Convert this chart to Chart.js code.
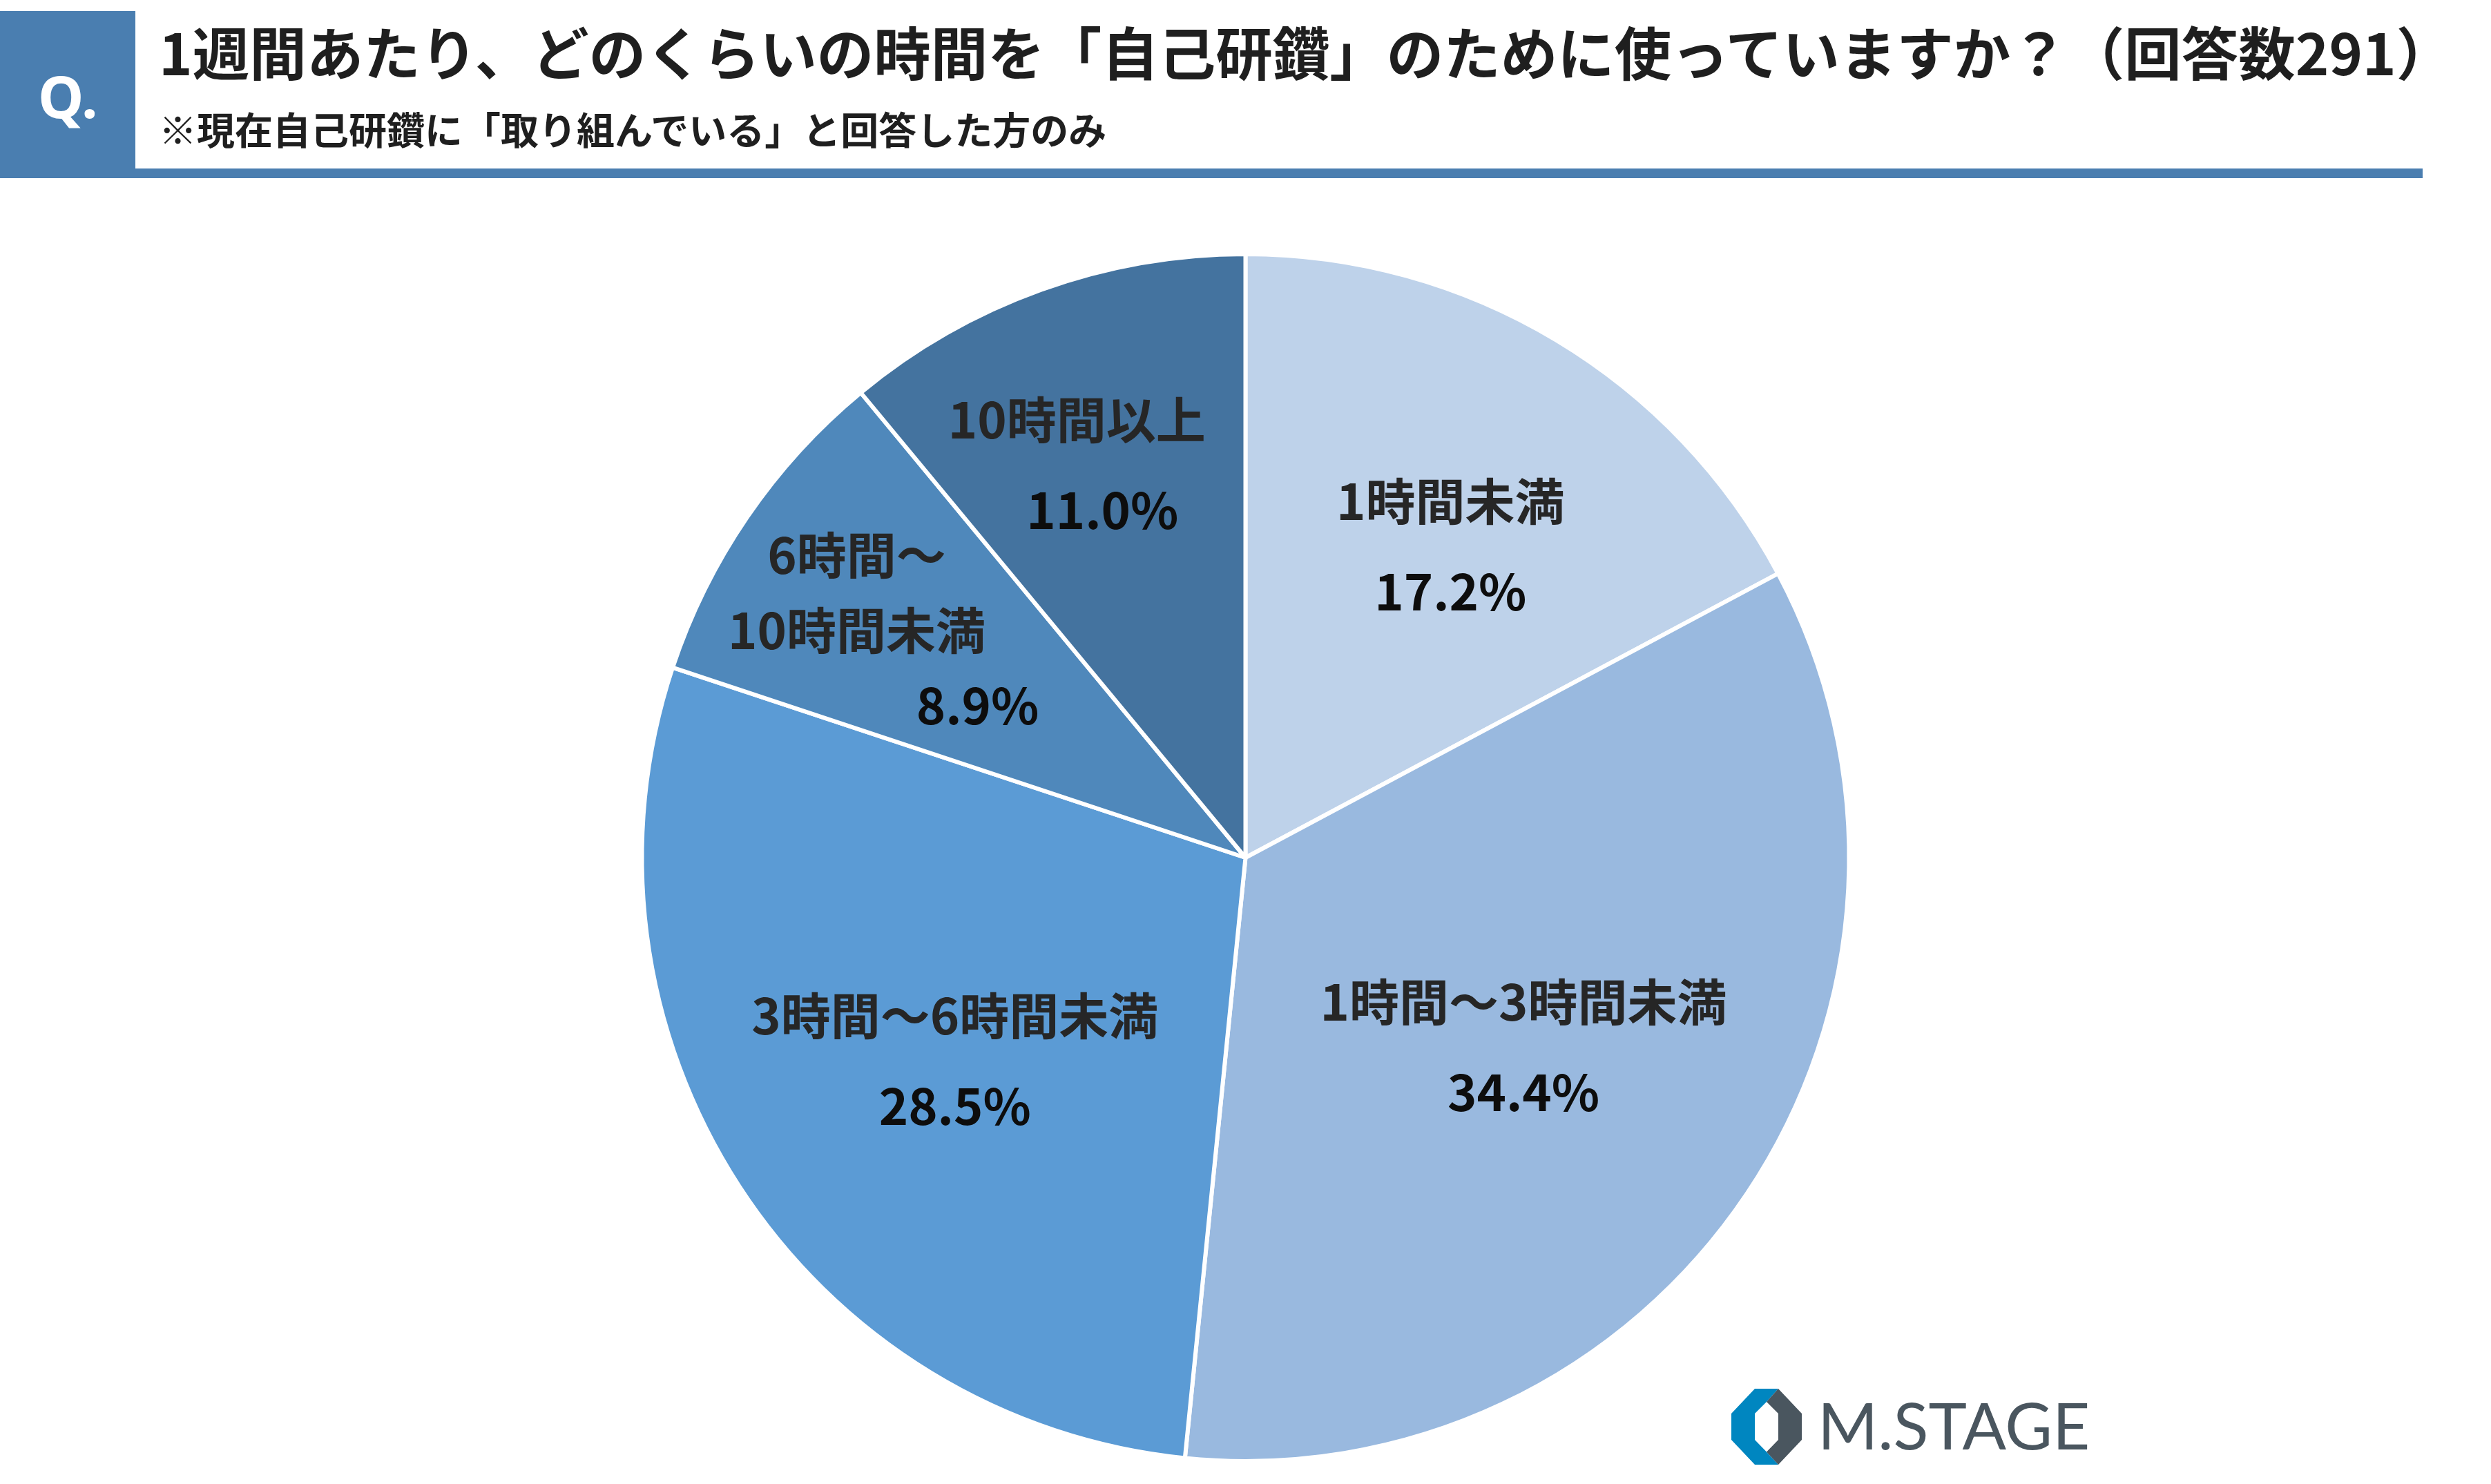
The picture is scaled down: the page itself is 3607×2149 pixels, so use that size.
<!DOCTYPE html>
<html lang="ja">
<head>
<meta charset="utf-8">
<script src="https://cdn.jsdelivr.net/npm/chart.js@4.4.1/dist/chart.umd.min.js"></script>
<style>
  html, body { margin: 0; padding: 0; background: #fff; }
  #page { position: relative; width: 3607px; height: 2149px; overflow: hidden; font-family: "Noto Sans CJK JP", "Noto Sans", sans-serif; }
  #qbox { position: absolute; left: 0; top: 16px; width: 196px; height: 242px; background: #4A7EB0; }
  #qbox span { position: absolute; left: 55px; top: 81px; color: #fff; font-family: "Noto Sans", sans-serif; font-size: 84px; font-weight: 700; line-height: 1; }
  #rule { position: absolute; left: 196px; top: 244px; width: 3312px; height: 14px; background: #4A7EB0; }
  #title { position: absolute; left: 230px; top: 24px; font-size: 82.5px; font-weight: 700; color: #1f1f1f; line-height: 1.2; white-space: nowrap; }
  #sub { position: absolute; left: 230px; top: 152px; font-size: 55px; font-weight: 700; color: #1f1f1f; line-height: 1.2; white-space: nowrap; }
  #chartBox { position: absolute; left: 0; top: 0; width: 3607px; height: 2149px; }
  #logo { position: absolute; left: 2507px; top: 2011px; width: 600px; height: 120px; }
  #logo svg { position: absolute; left: 0; top: 0; }
  #logo span { position: absolute; left: 125px; top: 5px; font-family: "Lato", "Open Sans", sans-serif; font-size: 94px; font-weight: 400; color: #4A565F; line-height: 1; display: inline-block; transform: scaleX(1.0); transform-origin: 0 0; white-space: nowrap; }
</style>
</head>
<body>
<div id="page">
  <div id="chartBox"><canvas id="pie"></canvas></div>
  <div id="qbox"><span>Q.</span></div>
  <div id="rule"></div>
  <div id="title">1週間あたり、どのくらいの時間を「自己研鑽」のために使っていますか？（回答数291）</div>
  <div id="sub">※現在自己研鑽に「取り組んでいる」と回答した方のみ</div>
  <div id="logo">
    <svg width="102" height="110" viewBox="0 0 102 110">
      <polygon points="34,0 68,0 51,19 34,36 34,74 51,91.5 68,110 34,110 0,74 0,36" fill="#0086C0"/>
      <polygon points="68,0 102,36 102,74 68,110 51,91.5 68,74 68,36 51,19" fill="#4A565F"/>
    </svg>
    <span>M.STAGE</span>
  </div>
</div>
<script>
// data
var categories = ["1時間未満", "1時間～3時間未満", "3時間～6時間未満", "6時間～10時間未満", "10時間以上"];
var labelLines = [["1時間未満"], ["1時間～3時間未満"], ["3時間～6時間未満"], ["6時間～", "10時間未満"], ["10時間以上"]];
var values = [17.2, 34.4, 28.5, 8.9, 11.0];

var colors = ["#BED2EA", "#99B9DF", "#5B9BD5", "#4F88BB", "#44739F"];
// label placement: fraction of radius, then small nudges in px
var labelRadius = [0.62, 0.56, 0.59, 0.70, 0.70];
var nudgeY = [14, 2, 14, 16, 7];
var nameDx = [18, -4, 12, -58, -37];
var pctDx = [18, -4, 12, 117, 0];

var pieLabels = {
  id: "pieLabels",
  afterDatasetsDraw: function(chart) {
    var ctx = chart.ctx;
    var meta = chart.getDatasetMeta(0);
    ctx.save();
    ctx.textAlign = "center";
    ctx.textBaseline = "middle";
    ctx.font = "700 72px 'Noto Sans CJK JP'";
    meta.data.forEach(function(arc, i) {
      var mid = (arc.startAngle + arc.endAngle) / 2;
      var r = arc.outerRadius * labelRadius[i];
      var cx = arc.x + Math.cos(mid) * r;
      var cy = arc.y + Math.sin(mid) * r + nudgeY[i];
      var lines = labelLines[i].concat([values[i].toFixed(1) + "%"]);
      var gap = lines.length > 2 ? 109 : 131;
      var y0 = cy - gap * (lines.length - 1) / 2;
      lines.forEach(function(t, j) {
        var last = j == lines.length - 1;
        ctx.fillStyle = last ? "#0d0d0d" : "#262626";
        ctx.fillText(t, cx + (last ? pctDx[i] : nameDx[i]), y0 + j * gap);
      });
    });
    ctx.restore();
  }
};

var chart = new Chart(document.getElementById("pie"), {
  type: "pie",
  data: {
    labels: categories,
    datasets: [{
      data: values,
      backgroundColor: colors,
      borderColor: "#ffffff",
      borderWidth: 6
    }]
  },
  options: {
    responsive: true,
    maintainAspectRatio: false,
    animation: false,
    layout: { padding: { top: 365, bottom: 30, left: 0, right: 0 } },
    plugins: {
      legend: { display: false },
      tooltip: { enabled: false }
    }
  },
  plugins: [pieLabels]
});
</script>
</body>
</html>
